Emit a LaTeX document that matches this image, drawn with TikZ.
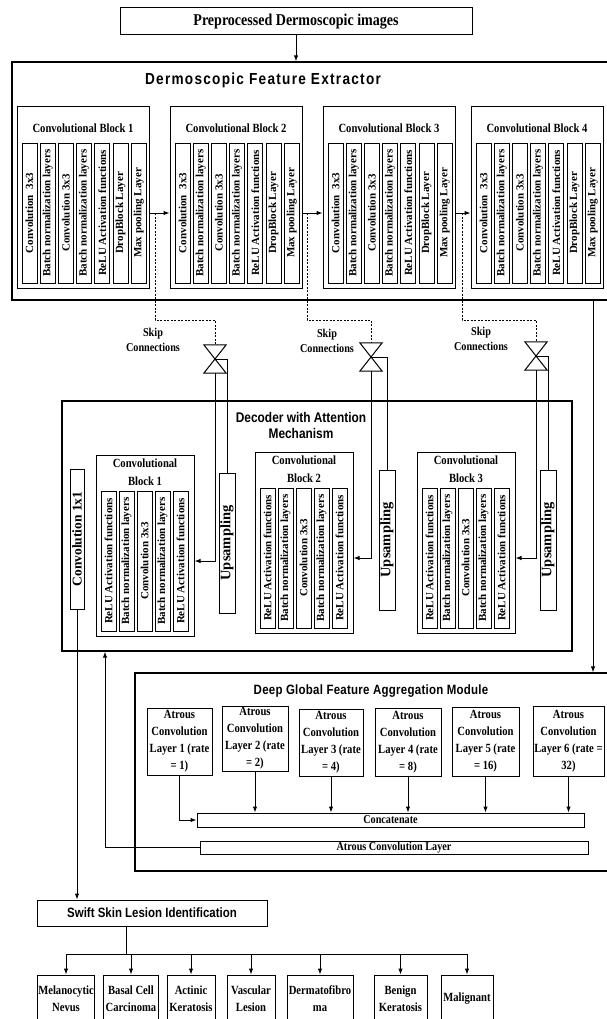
\documentclass[tikz,border=0pt]{standalone}
\usepackage{fontspec}
\setmainfont{Liberation Serif}[FakeStretch=0.85]
\setsansfont{Liberation Sans}[FakeStretch=0.85]
\newfontfamily\layerfont{Liberation Serif}
\usetikzlibrary{arrows.meta, positioning, calc}

\tikzset{
  frame/.style={draw, line width=1.3pt, inner sep=0pt},
  box/.style={draw, line width=1pt, inner sep=0pt, align=center, font=\bfseries\fontsize{12.5}{17}\selectfont},
  lyr/.style={draw, line width=0.9pt, inner sep=0pt, minimum width=15, minimum height=140, font=\layerfont\bfseries\fontsize{11}{11}\selectfont},
  upbox/.style={draw, line width=1pt, inner sep=0pt, minimum width=16, minimum height=140, font=\layerfont\bfseries\fontsize{14.5}{14.5}\selectfont},
  gate/.style={inner sep=0pt, minimum width=22, minimum height=28},
  head/.style={inner sep=0pt, align=center, font=\sffamily\bfseries\fontsize{13.5}{16}\selectfont},
  lbl/.style={inner sep=0pt, align=center, font=\bfseries\fontsize{12}{15}\selectfont},
  arr/.style={line width=1pt, -{Latex[length=6pt, width=4.5pt]}},
  link/.style={line width=1pt},
  skip/.style={line width=1pt, dash pattern=on 2pt off 1.5pt},
}

\begin{document}
\begin{tikzpicture}[x=1pt, y=-1pt]
    \useasboundingbox (0,0) rectangle (606,1019);

    % input
    \node[box, minimum width=352, minimum height=27, font=\bfseries\fontsize{16.5}{18}\selectfont] (pre) at (296,21.5) {Preprocessed Dermoscopic images};

    % feature extractor
    \node[frame, minimum width=598, minimum height=238] (enc) at (311,181) {};
    \node[head, font=\sffamily\bfseries\fontsize{16}{18}\selectfont\addfontfeatures{LetterSpace=8}] (enct) at (263,80) {Dermoscopic Feature Extractor};
    \draw[arr] (pre.south) -- (pre.south |- enc.north);

    \foreach \blk/\bx in {1/17, 2/170, 3/323, 4/471} {
        \node[box, minimum width=132, minimum height=181] (e\blk) at (\bx+66,197.5) {};
        \node[lbl, font=\bfseries\fontsize{12.5}{15}\selectfont] at (\bx+66,128) {Convolutional Block \blk};
        \foreach \txt [count=\i] in {{Convolution\ \ 3x3}, {Batch normalization layers}, {Convolution 3x3}, {Batch normalization layers}, {ReLU Activation functions}, {DropBlock Layer}, {Max pooling Layer}}
            \node[lyr] (e\blk L\i) at ({\bx+12.5+18.2*(\i-1)},213) {\rotatebox{90}{\txt}};
    }
    \foreach \a/\blk in {1/2, 2/3, 3/4}
        \draw[arr] (e\a L7 -| e\a.east) -- (e\a L7 -| e\blk.west);

    % decoder
    \node[frame, minimum width=510, minimum height=250] (dec) at (317,526) {};
    \node[head, font=\sffamily\bfseries\fontsize{14}{16}\selectfont] (dect) at (301,425) {Decoder with Attention\\Mechanism};
    \node[upbox, minimum width=14, font=\layerfont\bfseries\fontsize{13.5}{13.5}\selectfont] (cv) at (77,539) {\rotatebox{90}{Convolution 1x1}};

    \foreach \blk/\bx/\by in {1/96/455, 2/255/452, 3/417/452} {
        \node[box, minimum width=98, minimum height=181] (d\blk) at (\bx+49,\by+90.5) {};
        \node[lbl, font=\bfseries\fontsize{12.5}{18}\selectfont] at (\bx+49,\by+17) {Convolutional\\Block \blk};
        \foreach \txt [count=\i] in {{ReLU Activation functions}, {Batch normalization layers}, {Convolution 3x3}, {Batch normalization layers}, {ReLU Activation functions}}
            \node[lyr] (d\blk L\i) at ({\bx+12.5+18*(\i-1)},\by+106) {\rotatebox{90}{\txt}};
    }
    \foreach \blk/\ux/\uy in {1/227/543, 2/387/540, 3/548/540}
        \node[upbox] (u\blk) at (\ux,\uy) {\rotatebox{90}{Upsampling}};

    % skip connections
    \node[lbl] (k1) at (153,340) {Skip\\Connections};
    \node[lbl] (k2) at (327,341) {Skip\\Connections};
    \node[lbl] (k3) at (481,339) {Skip\\Connections};
    \foreach \blk/\gx/\gy/\sx in {1/215/359/155, 2/371/357/307, 3/536/356/462} {
        \node[gate] (g\blk) at (\gx,\gy) {};
        \draw[link] (g\blk.north west) -- (g\blk.north east) -- (g\blk.center) -- cycle
                    (g\blk.south west) -- (g\blk.south east) -- (g\blk.center) -- cycle;
        \coordinate (s\blk) at (\sx,213);
        \draw[skip] (s\blk) -- ++(0,107) -| (g\blk.north);
        \draw[arr] (g\blk.south) |- (d\blk L5 -| d\blk.east);
        \draw[link] (g\blk.center) -| (u\blk.north);
    }

    % global feature aggregation
    \node[frame, minimum width=475, minimum height=198] (dg) at (372.5,772) {};
    \node[head, font=\sffamily\bfseries\fontsize{13.5}{16}\selectfont\addfontfeatures{LetterSpace=2}] (dgt) at (371,691) {Deep Global Feature Aggregation Module};
    \coordinate (rl) at (593,0);
    \draw[arr] (enc.south -| rl) -- (dg.north -| rl);

    \foreach \i/\cx/\cy/\w/\h/\txt in {1/179.5/741.5/65/67/{Layer 1 (rate\\= 1)}, 2/255/738.5/66/65/{Layer 2 (rate\\= 2)}, 3/331/742.5/64/67/{Layer 3 (rate\\= 4)}, 4/408/742/66/68/{Layer 4 (rate\\= 8)}, 5/485.5/741.5/67/69/{Layer 5 (rate\\= 16)}, 6/568.5/741/71/70/{Layer 6 (rate =\\32)}}
        \node[box, minimum width=\w, minimum height=\h] (a\i) at (\cx,\cy) {Atrous\\Convolution\\\txt};

    \node[box, minimum width=387, minimum height=14, font=\bfseries\fontsize{12}{14}\selectfont] (cat) at (390.5,820) {Concatenate};
    \node[box, minimum width=388, minimum height=13, font=\bfseries\fontsize{12}{14}\selectfont] (acl) at (394,847.5) {Atrous Convolution Layer};
    \draw[arr] (a1.south) |- (cat.west);
    \foreach \i in {2,...,6}
        \draw[arr] (a\i.south) -- (a\i.south |- cat.north);

    \coordinate (fb) at (105,0);
    \draw[arr] (acl.west) -| (dec.south -| fb);

    % identification
    \node[box, minimum width=230, minimum height=26, font=\sffamily\bfseries\fontsize{13.5}{16}\selectfont] (sw) at (152,913) {Swift Skin Lesion Identification};
    \draw[arr] (cv.south) -- (cv.south |- sw.north);

    \foreach \i/\cx/\w/\txt in {1/66/57/{Melanocytic\\Nevus}, 2/131/55/{Basal Cell\\Carcinoma}, 3/191/48/{Actinic\\Keratosis}, 4/251/48/{Vascular\\Lesion}, 5/320/66/{Dermatofibro\\ma}, 6/400.5/53/{Benign\\Keratosis}, 7/467/52/{Malignant}}
        \node[box, minimum width=\w, minimum height=47] (c\i) at (\cx,998.5) {\txt};

    \coordinate (tr) at (126,954);
    \draw[link] (sw.south -| tr) -- (tr);
    \draw[link] (c1.north |- tr) -- (c7.north |- tr);
    \foreach \i in {1,...,7}
        \draw[arr] (c\i.north |- tr) -- (c\i.north);
\end{tikzpicture}
\end{document}
